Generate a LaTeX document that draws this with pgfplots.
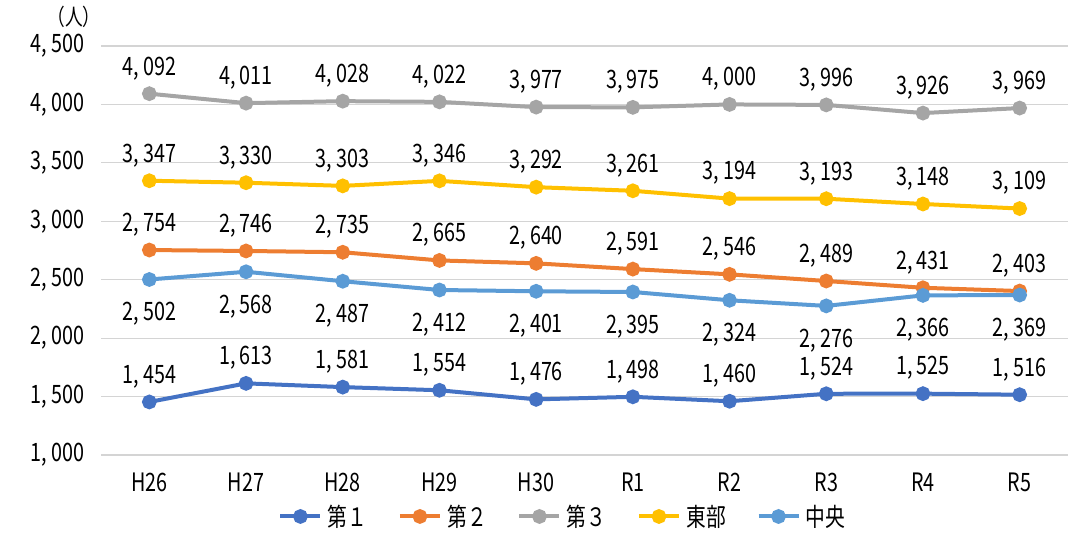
\documentclass[border=0pt]{standalone}
\usepackage{pgfplots}
\pgfplotsset{compat=1.18}
\usepackage{fontspec}
\setmainfont{Noto Sans CJK JP}[FakeStretch=0.78]
\definecolor{c1}{HTML}{4472C4}
\definecolor{c2}{HTML}{ED7D31}
\definecolor{c3}{HTML}{A5A5A5}
\definecolor{c4}{HTML}{FFC000}
\definecolor{c5}{HTML}{5B9BD5}
\begin{document}
\begin{tikzpicture}
\useasboundingbox (-75.75pt,-57.75pt) rectangle (737.25pt,341.25pt);
\begin{axis}[
  at={(0,0)}, anchor=south west,
  scale only axis, width=725.25pt, height=306.75pt,
  xmin=-0.5, xmax=9.5, ymin=1000, ymax=4500,
  xtick={0,...,9},
  xticklabels={H26,H27,H28,H29,H30,R1,R2,R3,R4,R5},
  ytick={1000,1500,...,4500},
  ymajorgrids, major grid style={draw=black!17, line width=0.8pt},
  axis line style={draw=none},
  tick style={draw=none},
  /pgf/number format/assume math mode=true,
  /pgf/number format/1000 sep={,\,},
  tick label style={font=\fontsize{19}{21}\selectfont},
  yticklabel style={xshift=-9pt},
  xticklabel style={yshift=-10pt},
  every axis plot/.append style={line width=3pt, mark=*, mark size=4pt},
  nodes near coords,
  every node near coord/.append style={font=\fontsize{19}{21}\selectfont, text=black, anchor=base, inner sep=0pt, yshift=14pt},
  legend style={at={(0.478,-0.108)}, anchor=north, draw=none, legend columns=5,
    font=\fontsize{19}{21}\selectfont, column sep=2pt,
    /tikz/every even column/.append style={column sep=21pt}},
  legend image code/.code={\draw[#1, line width=3pt] (0pt,0pt) -- (30pt,0pt); \fill[#1] (15pt,0pt) circle (4pt);},
  clip=false,
]
\addplot[c1] coordinates {(0,1454)(1,1613)(2,1581)(3,1554)(4,1476)(5,1498)(6,1460)(7,1524)(8,1525)(9,1516)};
\addlegendentry{第１}
\addplot[c2] coordinates {(0,2754)(1,2746)(2,2735)(3,2665)(4,2640)(5,2591)(6,2546)(7,2489)(8,2431)(9,2403)};
\addlegendentry{第２}
\addplot[c3] coordinates {(0,4092)(1,4011)(2,4028)(3,4022)(4,3977)(5,3975)(6,4000)(7,3996)(8,3926)(9,3969)};
\addlegendentry{第３}
\addplot[c4] coordinates {(0,3347)(1,3330)(2,3303)(3,3346)(4,3292)(5,3261)(6,3194)(7,3193)(8,3148)(9,3109)};
\addlegendentry{東部}
\addplot[c5, every node near coord/.append style={yshift=-45pt}] coordinates {(0,2502)(1,2568)(2,2487)(3,2412)(4,2401)(5,2395)(6,2324)(7,2276)(8,2366)(9,2369)};
\addlegendentry{中央}
\node[font=\fontsize{17}{19}\selectfont, anchor=base] at (rel axis cs:-0.028,1.05) {（人）};
\end{axis}
\end{tikzpicture}
\end{document}
